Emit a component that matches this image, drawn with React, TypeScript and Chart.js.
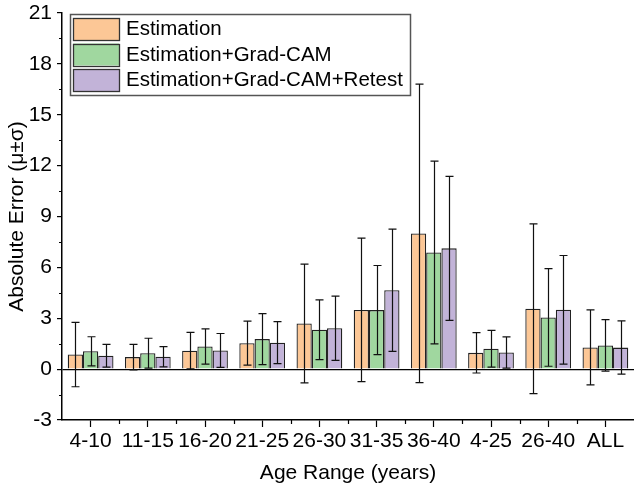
import React, { useEffect, useRef } from 'react';
import { Chart, registerables } from 'chart.js';

Chart.register(...registerables);

const categories = ['4-10', '11-15', '16-20', '21-25', '26-30', '31-35', '36-40', '4-25', '26-40', 'ALL'];
const seriesLabels = ['Estimation', 'Estimation+Grad-CAM', 'Estimation+Grad-CAM+Retest'];

const estimationMean = [0.86, 0.71, 1.09, 1.53, 2.69, 3.49, 8.0, 0.96, 3.56, 1.28];
const estimationSd = [1.9, 0.75, 1.08, 1.3, 3.5, 4.23, 8.8, 1.19, 5.0, 2.21];

const gradCamMean = [1.05, 0.94, 1.33, 1.77, 2.32, 3.48, 6.88, 1.2, 3.05, 1.4];
const gradCamSd = [0.86, 0.88, 1.04, 1.5, 1.76, 2.63, 5.39, 1.08, 2.88, 1.52];

const retestMean = [0.79, 0.73, 1.1, 1.56, 2.41, 4.65, 7.12, 0.98, 3.5, 1.27];
const retestSd = [0.67, 0.6, 1.0, 1.24, 1.89, 3.6, 4.25, 0.92, 3.2, 1.57];

const yTicks = [-3, 0, 3, 6, 9, 12, 15, 18, 21];
const yMinorTicks = [-1.5, 1.5, 4.5, 7.5, 10.5, 13.5, 16.5, 19.5];

const fillColors = ['#FCC796', '#A0D79F', '#C2B3D8'];

const FONT = "'Liberation Sans', Arial, sans-serif";

const errorBarPlugin = {
  id: 'errorBars',
  afterDatasetsDraw(chart: any) {
    const ctx = chart.ctx;
    const yScale = chart.scales.y;
    ctx.save();
    ctx.strokeStyle = '#111';
    ctx.lineWidth = 1.2;
    chart.data.datasets.forEach((ds: any, i: number) => {
      const meta = chart.getDatasetMeta(i);
      meta.data.forEach((bar: any, j: number) => {
        const m = ds.data[j];
        const s = ds.errors[j];
        const x = Math.round(bar.x) + 0.5;
        const top = yScale.getPixelForValue(m + s);
        const bot = yScale.getPixelForValue(m - s);
        const cap = 4;
        ctx.beginPath();
        ctx.moveTo(x, top);
        ctx.lineTo(x, bot);
        ctx.moveTo(x - cap, top);
        ctx.lineTo(x + cap, top);
        ctx.moveTo(x - cap, bot);
        ctx.lineTo(x + cap, bot);
        ctx.stroke();
      });
    });
    ctx.restore();
  },
};

const minorTickPlugin = {
  id: 'minorTicks',
  afterDraw(chart: any) {
    const ctx = chart.ctx;
    const xs = chart.scales.x;
    const ys = chart.scales.y;
    const area = chart.chartArea;
    ctx.save();
    ctx.strokeStyle = '#000';
    ctx.lineWidth = 1.2;
    ctx.beginPath();
    yMinorTicks.forEach((v) => {
      const py = Math.round(ys.getPixelForValue(v)) + 0.5;
      ctx.moveTo(area.left - 3, py);
      ctx.lineTo(area.left, py);
    });
    for (let j = 0; j < categories.length - 1; j++) {
      const px = Math.round((xs.getPixelForValue(j) + xs.getPixelForValue(j + 1)) / 2) + 0.5;
      ctx.moveTo(px, area.bottom);
      ctx.lineTo(px, area.bottom + 4);
    }
    ctx.stroke();
    ctx.restore();
  },
};

const legendPlugin = {
  id: 'boxLegend',
  afterDraw(chart: any) {
    const ctx = chart.ctx;
    const left = 70;
    const top = 14;
    const width = 340;
    const height = 81;
    ctx.save();
    ctx.fillStyle = '#fff';
    ctx.fillRect(left, top, width, height);
    ctx.strokeStyle = '#555';
    ctx.lineWidth = 1.5;
    ctx.strokeRect(left + 0.5, top + 0.5, width, height);
    ctx.font = `20.5px ${FONT}`;
    ctx.textBaseline = 'middle';
    ctx.textAlign = 'left';
    chart.data.datasets.forEach((ds: any, i: number) => {
      const sy = 18 + i * 25.5;
      ctx.fillStyle = ds.backgroundColor;
      ctx.fillRect(73, sy, 46, 22);
      ctx.strokeStyle = '#333';
      ctx.lineWidth = 1.3;
      ctx.strokeRect(73.5, Math.round(sy) + 0.5, 46, 22);
      ctx.fillStyle = '#000';
      ctx.fillText(ds.label, 126, sy + 11.5);
    });
    ctx.restore();
  },
};

export default function App() {
  const canvasRef = useRef<HTMLCanvasElement>(null);

  useEffect(() => {
    if (!canvasRef.current) return;
    Chart.defaults.font.family = FONT;
    Chart.defaults.color = '#000';
    const makeDs = (label: string, data: number[], errors: number[], color: string) => ({
      label,
      data,
      errors,
      backgroundColor: color,
      borderColor: '#222',
      borderWidth: 1.3,
      categoryPercentage: 0.8,
      barPercentage: 1.0,
    });
    const chart = new Chart(canvasRef.current, {
      type: 'bar',
      data: {
        labels: categories,
        datasets: [
          makeDs(seriesLabels[0], estimationMean, estimationSd, fillColors[0]),
          makeDs(seriesLabels[1], gradCamMean, gradCamSd, fillColors[1]),
          makeDs(seriesLabels[2], retestMean, retestSd, fillColors[2]),
        ] as any,
      },
      options: {
        animation: false,
        responsive: false,
        layout: { padding: { top: 0, right: 0, bottom: 0, left: 0 } },
        plugins: {
          legend: { display: false },
          tooltip: { enabled: false },
        },
        scales: {
          x: {
            offset: true,
            grid: {
              display: true,
              drawOnChartArea: false,
              drawTicks: true,
              tickLength: 7,
              tickColor: '#000',
              tickWidth: 1.2,
              offset: false,
            },
            border: { display: true, color: '#000', width: 1.5 },
            ticks: {
              font: { size: 21, lineHeight: 1.2 },
              color: '#000',
              padding: 2,
              maxRotation: 0,
              autoSkip: false,
            },
            title: {
              display: true,
              text: 'Age Range (years)',
              font: { size: 21, lineHeight: 1.2 },
              color: '#000',
              padding: { top: 0, bottom: 1 },
            },
            afterFit(scale: any) {
              scale.height = 67;
            },
          },
          y: {
            min: -3,
            max: 21,
            afterBuildTicks(scale: any) {
              scale.ticks = yTicks.map((v) => ({ value: v }));
            },
            grid: {
              display: true,
              drawOnChartArea: true,
              drawTicks: true,
              tickLength: 5,
              tickColor: '#000',
              tickWidth: 1.2,
              lineWidth: 1.2,
              color: (c: any) => (c.tick && c.tick.value === 0 ? '#000' : 'rgba(0,0,0,0)'),
            },
            border: { display: true, color: '#000', width: 1.5 },
            ticks: {
              font: { size: 21, lineHeight: 0.76 },
              color: '#000',
              padding: 5,
            },
            title: {
              display: true,
              text: 'Absolute Error (μ±σ)',
              font: { size: 21, lineHeight: 1.2 },
              color: '#000',
              padding: { top: 5, bottom: 0 },
            },
            afterFit(scale: any) {
              scale.width = 62;
            },
          },
        },
      } as any,
      plugins: [errorBarPlugin, minorTickPlugin, legendPlugin],
    });
    return () => chart.destroy();
  }, []);

  return (
    <div style={{ position: 'fixed', left: 0, top: 0, width: 634, height: 487, background: '#fff' }}>
      <canvas ref={canvasRef} width={634} height={487} style={{ display: 'block' }} />
    </div>
  );
}
